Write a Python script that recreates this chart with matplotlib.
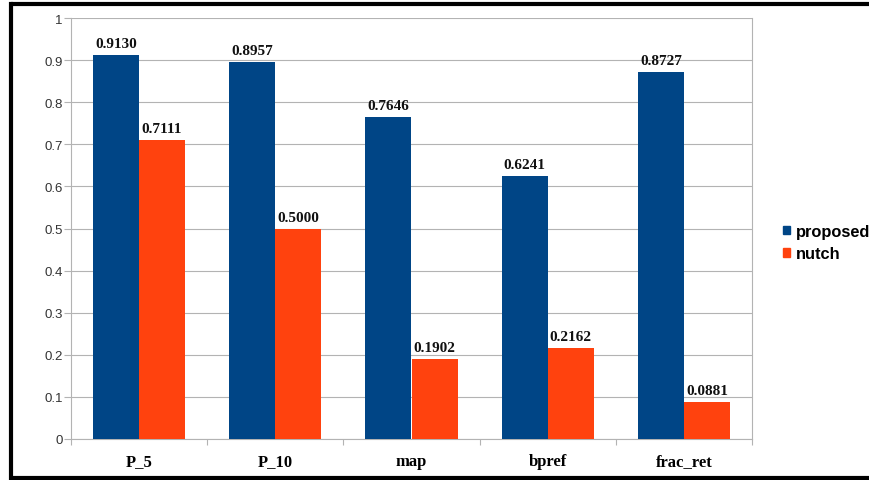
import numpy as np
import matplotlib.pyplot as plt
from matplotlib.lines import Line2D
from matplotlib.patches import Patch

categories = ['P_5', 'P_10', 'map', 'bpref', 'frac_ret']
proposed = [0.9130, 0.8957, 0.7646, 0.6241, 0.8727]
nutch = [0.7111, 0.5000, 0.1902, 0.2162, 0.0881]
series_names = ['proposed', 'nutch']

BLUE = '#004586'
ORANGE = '#ff420e'
GRID = '#b3b3b3'

fig = plt.figure(figsize=(8.7, 4.81), dpi=100)
ax = fig.add_axes([71 / 870, 41 / 481, 681 / 870, 421 / 481])

x = np.arange(len(categories))
w = 0.338
b1 = ax.bar(x - w / 2, proposed, w, color=BLUE, zorder=3)
b2 = ax.bar(x + w / 2, nutch, w, color=ORANGE, zorder=3)

# value labels above bars
for bars, vals in ((b1, proposed), (b2, nutch)):
    for rect, v in zip(bars, vals):
        ax.annotate('%.4f' % v, (rect.get_x() + rect.get_width() / 2, v),
                    xytext=(0, 3.5), textcoords='offset points',
                    ha='center', va='bottom', fontsize=11, fontweight='bold',
                    family='Liberation Serif', color='#111111')

ax.set_xlim(-0.5, len(categories) - 0.5)
ax.set_ylim(0, 1)
ax.set_yticks(np.arange(0, 1.01, 0.1))
ax.set_yticklabels(['0', '0.1', '0.2', '0.3', '0.4', '0.5', '0.6', '0.7', '0.8', '0.9', '1'])
ax.yaxis.grid(True, color=GRID, lw=0.8, zorder=0)
ax.tick_params(axis='y', length=5, width=0.8, color=GRID, pad=1,
               labelsize=9.5, labelcolor='#333333')
for lab in ax.get_yticklabels():
    lab.set_family('Liberation Sans')

ax.set_xticks(x)
ax.set_xticklabels(categories, fontsize=12, fontweight='bold', family='Liberation Serif')
ax.tick_params(axis='x', length=0, pad=10)
ax.set_xticks(np.arange(-0.5, len(categories)), minor=True)
ax.tick_params(axis='x', which='minor', length=4, width=0.8, color=GRID)

for side in ('left', 'right', 'bottom'):
    ax.spines[side].set_color(GRID)
    ax.spines[side].set_linewidth(0.8)
ax.spines['top'].set_visible(False)

handles = [Patch(color=BLUE), Patch(color=ORANGE)]
leg = fig.legend(handles, series_names, loc='center left',
                 bbox_to_anchor=(783 / 870, 1 - 243.5 / 481), frameon=False,
                 borderpad=0, borderaxespad=0,
                 handlelength=0.42, handleheight=0.42, handletextpad=0.35,
                 labelspacing=0.45, prop={'family': 'Liberation Sans', 'weight': 'bold', 'size': 11.8})

# black frame around the picture (left, top, bottom)
lw = 3.0
fig.add_artist(Line2D([11.5 / 870, 11.5 / 870], [2.5 / 481, 1 - 4.5 / 481], color='black', lw=lw,
                      transform=fig.transFigure, solid_capstyle='projecting'))
fig.add_artist(Line2D([11.5 / 870, 1.0], [1 - 4.5 / 481, 1 - 4.5 / 481], color='black', lw=lw,
                      transform=fig.transFigure, solid_capstyle='butt'))
fig.add_artist(Line2D([11.5 / 870, 1.0], [2.5 / 481, 2.5 / 481], color='black', lw=lw,
                      transform=fig.transFigure, solid_capstyle='butt'))

fig.savefig('out.png', dpi=100)
